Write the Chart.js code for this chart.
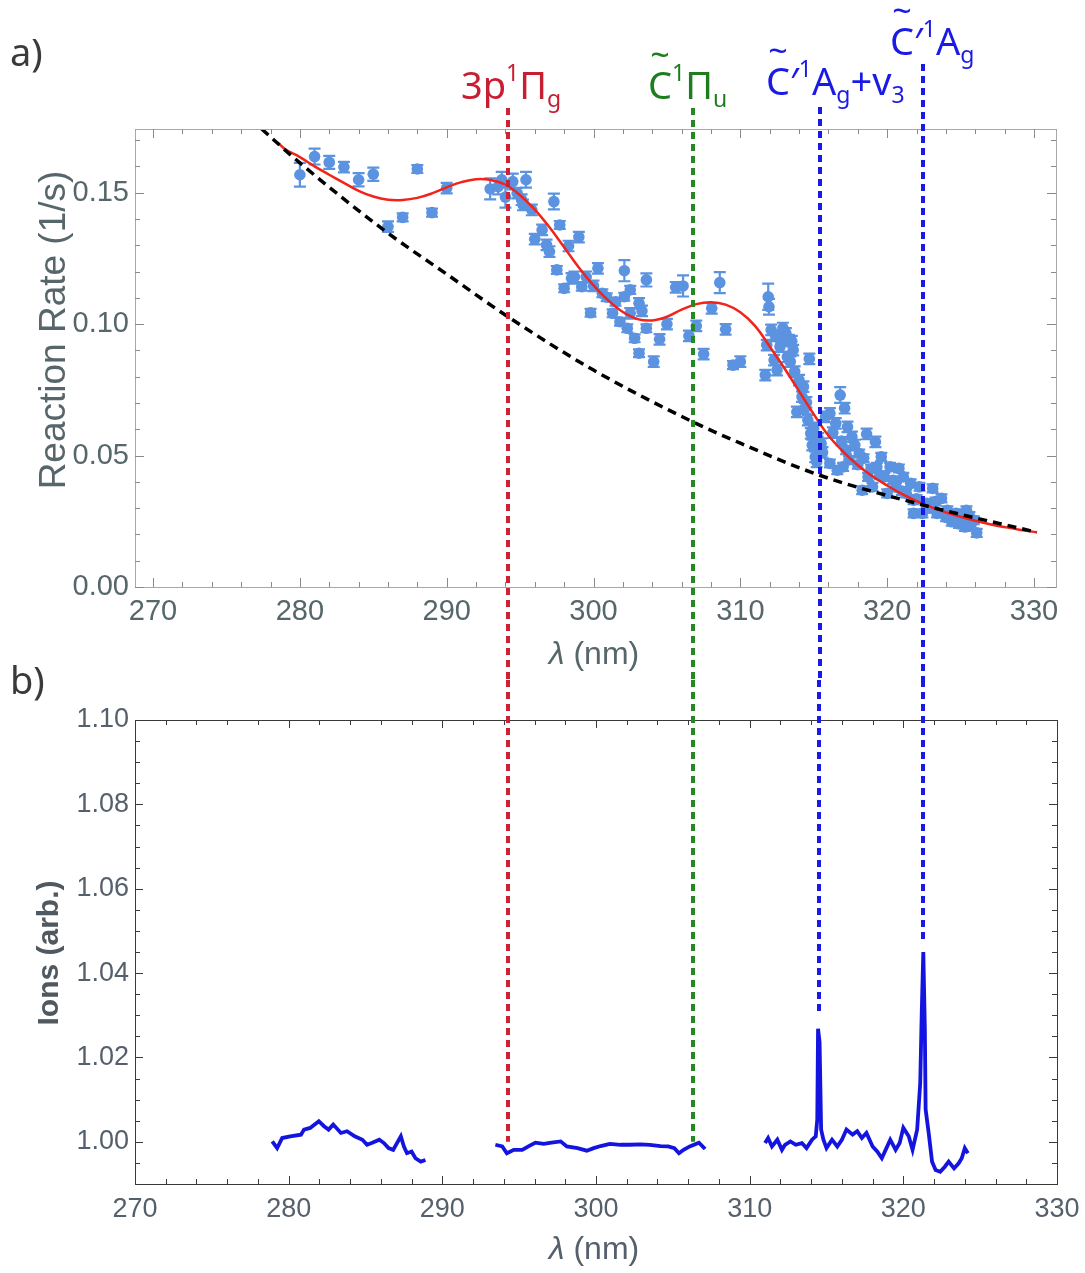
<!DOCTYPE html>
<html>
<head>
<meta charset="utf-8">
<script src="https://cdn.jsdelivr.net/npm/chart.js@4.4.1/dist/chart.umd.min.js"></script>
<style>
  body { margin: 0; background: #fff; width: 1085px; height: 1273px; position: relative; overflow: hidden; }
  canvas { position: absolute; left: 0; }
  #rate { top: 0; }
  #ions { top: 640px; }
</style>
</head>
<body>
<canvas id="rate" width="1085" height="700"></canvas>
<canvas id="ions" width="1085" height="633"></canvas>
<script>
// ---- a) reaction rate vs wavelength ----
// measured points (nm, 1/s) with error bar half heights
const rateX = [280.0, 281.0, 282.0, 283.0, 284.0, 285.0, 286.0, 287.0, 288.0, 289.0, 290.0,
  292.96, 293.5, 293.75, 294.0, 294.5, 294.8, 295.1, 295.4, 295.8, 296.0, 295.2, 297.3, 296.5, 296.8, 297.0,
  297.7, 298.3, 299.0, 297.5, 298.0, 298.5, 298.7, 299.2, 299.5, 299.8, 300.0, 300.3, 300.6, 300.9,
  301.3, 301.5, 301.8, 302.1, 302.1, 302.3, 302.5, 302.5, 302.8, 303.1, 303.1, 303.3, 303.6, 303.6,
  304.1, 304.5, 305.0, 305.6, 306.1, 306.5, 307.0, 307.5, 308.05, 308.6, 309.0, 309.5, 310.0,
  311.7, 311.9, 311.95, 311.8, 312.1, 312.3, 312.5, 312.7, 312.8, 313.1, 313.3, 313.4, 313.6, 313.7,
  314.0, 313.85, 314.2, 314.4, 314.6, 314.8, 314.9, 315.1, 315.2, 314.7, 315.8, 316.1, 316.5, 316.8,
  317.1, 317.3, 317.6, 317.8, 316.1, 316.6, 317.0, 317.4, 318.1, 318.3, 318.6, 318.7, 319.0, 319.2,
  319.3, 319.6, 319.8, 320.0, 320.2, 320.4, 320.8, 321.1, 321.3, 321.6, 321.8, 321.8, 322.2, 322.4,
  322.7, 323.1, 323.4, 323.7, 324.1, 324.4, 324.7, 325.1, 325.4, 325.7, 325.9, 326.1,
  312.4, 312.9, 313.2, 313.5, 314.3, 314.5, 315.0, 315.3, 315.5, 315.6, 316.3, 316.9, 317.2, 318.0,
  318.4, 318.9, 319.5, 320.6, 321.0, 322.0, 322.9, 323.3, 324.0, 324.9, 325.3, 325.6];
const rateY = [0.1568, 0.1637, 0.1615, 0.1597, 0.1549, 0.1570, 0.1371, 0.1406, 0.1590, 0.1424, 0.1517,
  0.1514, 0.1523, 0.1549, 0.1483, 0.1542, 0.1498, 0.1473, 0.1549, 0.1434, 0.1323, 0.1453, 0.1466, 0.1358, 0.1301, 0.1276,
  0.1377, 0.1297, 0.1331, 0.1206, 0.1136, 0.1174, 0.1180, 0.1142, 0.1180, 0.1043, 0.1145, 0.1212, 0.1117, 0.1102,
  0.1041, 0.1085, 0.1009, 0.1203, 0.1104, 0.0984, 0.1130, 0.1041, 0.0946, 0.1079, 0.0889, 0.1050, 0.1168, 0.0984,
  0.0857, 0.0942, 0.1000, 0.1140, 0.1145, 0.0955, 0.0993, 0.0886, 0.1060, 0.1158, 0.0980, 0.0844, 0.0857,
  0.0806, 0.1104, 0.1066, 0.0920, 0.0978, 0.0863, 0.0825, 0.0914, 0.0946, 0.0965, 0.0939, 0.0857, 0.0901, 0.0819,
  0.0787, 0.0666, 0.0724, 0.0680, 0.0635, 0.0584, 0.0540, 0.0495, 0.0476, 0.0868, 0.0647, 0.0660, 0.0622, 0.0730,
  0.0680, 0.0609, 0.0571, 0.0540, 0.0470, 0.0444, 0.0457, 0.0483, 0.0508, 0.0368, 0.0582, 0.0419, 0.0381, 0.0552,
  0.0457, 0.0495, 0.0419, 0.0356, 0.0457, 0.0406, 0.0451, 0.0419, 0.0356, 0.0394, 0.0330, 0.0280, 0.0381, 0.0280,
  0.0318, 0.0375, 0.0280, 0.0337, 0.0292, 0.0248, 0.0280, 0.0260, 0.0292, 0.0235, 0.0254, 0.0206,
  0.0955, 0.0985, 0.0875, 0.0935, 0.0762, 0.0702, 0.0605, 0.0565, 0.0545, 0.0512, 0.0587, 0.0555, 0.0520, 0.0465,
  0.0490, 0.0450, 0.0425, 0.0380, 0.0365, 0.0335, 0.0300, 0.0325, 0.0265, 0.0240, 0.0228, 0.0270];
const rateErr = [0.0045, 0.003, 0.0025, 0.002, 0.0025, 0.0025, 0.002, 0.0015, 0.0015, 0.0015, 0.002,
  0.004, 0.003, 0.003, 0.004, 0.003, 0.002, 0.002, 0.003, 0.002, 0.002, 0.002, 0.003, 0.002, 0.002, 0.002,
  0.0015, 0.002, 0.002, 0.0015, 0.0015, 0.002, 0.002, 0.0015, 0.002, 0.0015, 0.002, 0.002, 0.0015, 0.0015,
  0.0015, 0.0015, 0.0015, 0.004, 0.0015, 0.0015, 0.0015, 0.002, 0.0015, 0.002, 0.0015, 0.002, 0.0025, 0.0015,
  0.002, 0.002, 0.002, 0.002, 0.004, 0.002, 0.002, 0.002, 0.002, 0.004, 0.002, 0.0015, 0.002,
  0.002, 0.005, 0.003, 0.002, 0.002, 0.002, 0.002, 0.002, 0.002, 0.002, 0.002, 0.002, 0.002, 0.002,
  0.002, 0.002, 0.002, 0.002, 0.002, 0.002, 0.002, 0.002, 0.002, 0.002, 0.002, 0.002, 0.002, 0.003,
  0.002, 0.002, 0.002, 0.002, 0.0015, 0.0015, 0.0015, 0.0015, 0.0015, 0.0015, 0.002, 0.0015, 0.0015, 0.002,
  0.0015, 0.0015, 0.0015, 0.0015, 0.0015, 0.0015, 0.0015, 0.0015, 0.0015, 0.0015, 0.0015, 0.0015, 0.0015, 0.0015,
  0.0015, 0.0015, 0.0015, 0.0015, 0.0015, 0.0015, 0.0015, 0.0015, 0.0015, 0.0015, 0.0015, 0.0015,
  0.002, 0.002, 0.002, 0.002, 0.002, 0.002, 0.002, 0.002, 0.002, 0.002, 0.002, 0.0015, 0.0015, 0.0015,
  0.0015, 0.0015, 0.0015, 0.0015, 0.0015, 0.0015, 0.0015, 0.0015, 0.0015, 0.0015, 0.0015, 0.0015];

const fitX = [278.5, 279, 280, 281, 282, 283, 284, 285, 286, 287, 288, 289, 290, 291, 292, 293, 294, 295,
  296, 297, 298, 299, 300, 301, 302, 303, 304, 305, 306, 307, 308, 309, 310, 311, 312, 313, 314, 315,
  316, 317, 318, 319, 320, 321, 322, 323, 324, 325, 326, 327, 328, 329, 330.2];
const fitY = [0.1690, 0.1665, 0.1635, 0.1600, 0.1568, 0.1537, 0.1507, 0.1485, 0.1473, 0.1472, 0.1480, 0.1497,
  0.1520, 0.1540, 0.1551, 0.1548, 0.1530, 0.1490, 0.1435, 0.1368, 0.1292, 0.1215, 0.1147, 0.1090, 0.1046,
  0.1019, 0.1014, 0.1028, 0.1055, 0.1076, 0.1083, 0.1074, 0.1045, 0.0993, 0.0915, 0.0832, 0.0745, 0.0657,
  0.0576, 0.0515, 0.0463, 0.0421, 0.0386, 0.0354, 0.0327, 0.0304, 0.0284, 0.0267, 0.0252, 0.0239, 0.0228,
  0.0218, 0.0208];

// black dashed background curve
const baseX = [277.4, 280.0, 286.0, 290.0, 294.2, 300.0, 306.8, 310.0, 315.4, 322.5, 330.2];
const baseY = [0.1742, 0.1613, 0.1346, 0.1190, 0.1027, 0.0825, 0.0627, 0.0547, 0.0425, 0.0311, 0.0208];

const rateXTicks = [270, 280, 290, 300, 310, 320, 330];
const rateYTicks = [0.00, 0.05, 0.10, 0.15];

// state assignments (nm on each panel's own axis)
const stateX = [294.2, 306.8, 315.4, 322.45];
const ionStateX = [294.27, 306.31, 314.51, 321.28];
const ionStateEnd = [1.000, 1.000, 1.030, 1.047];
const stateColors = ['#cc2233', '#238a23', '#1a1ae6', '#1a1ae6'];
const stateTop = [108, 108, 107, 64];

// ---- b) ion signal, three scans ----
const ionX1 = [278.93, 279.25, 279.58, 280.1, 280.8, 281.0, 281.4, 281.96, 282.3, 282.6, 282.9, 283.4, 283.8, 284.3,
  284.8, 285.1, 285.4, 285.9, 286.2, 286.5, 286.8, 287.3, 287.5, 287.7, 288.0, 288.25, 288.6, 288.9];
const ionY1 = [1.0001, 0.9985, 1.0009, 1.0013, 1.0017, 1.0029, 1.0033, 1.0049, 1.0037, 1.0029, 1.0041, 1.0021, 1.0025, 1.0013,
  1.0005, 0.9993, 0.9997, 1.0005, 0.9997, 0.9985, 0.9981, 1.0013, 0.9989, 0.9973, 0.9977, 0.9961, 0.9953, 0.9957];
const ionX2 = [293.45, 293.9, 294.2, 294.65, 295.2, 295.6, 296.06, 296.6, 297.1, 297.7, 298.1, 298.8, 299.4, 299.85,
  300.3, 300.9, 301.6, 302.2, 302.9, 303.5, 304.2, 304.7, 305.1, 305.4, 305.7, 306.1, 306.7, 307.1];
const ionY2 = [0.9993, 0.9989, 0.9973, 0.9981, 0.9981, 0.9989, 0.9998, 0.9995, 0.9998, 1.0001, 0.9989, 0.9985, 0.9979, 0.9985,
  0.9990, 0.9995, 0.9993, 0.9993, 0.9994, 0.9993, 0.9990, 0.9989, 0.9985, 0.9973, 0.9981, 0.9989, 0.9998, 0.9983];
const ionX3 = [311.0, 311.2, 311.45, 311.8, 312.1, 312.3, 312.65, 313.0, 313.4, 313.7, 314.06, 314.3, 314.4, 314.45,
  314.55, 314.65, 314.8, 315.0, 315.36, 315.7, 316.0, 316.3, 316.7, 317.0, 317.3, 317.6, 318.0, 318.3, 318.6, 318.9,
  319.15, 319.5, 319.76, 320.0, 320.35, 320.6, 320.9, 321.1, 321.2, 321.3, 321.4, 321.45, 321.65, 321.87, 322.1,
  322.4, 322.7, 322.95, 323.3, 323.6, 323.8, 324.0, 324.2];
const ionY3 = [0.9997, 1.0009, 0.9989, 1.0005, 0.9981, 0.9993, 1.0001, 0.9993, 0.9997, 0.9985, 1.0005, 1.0013, 1.0053, 1.0268,
  1.0236, 1.0029, 1.0005, 0.9985, 1.0005, 0.9989, 1.0005, 1.0029, 1.0017, 1.0025, 1.0009, 1.0021, 0.9989, 0.9977, 0.9961, 0.9985,
  1.0005, 0.9981, 0.9997, 1.0033, 1.0013, 0.9981, 1.0029, 1.0140, 1.0310, 1.0450, 1.0268, 1.0077, 1.0021, 0.9953, 0.9933,
  0.9929, 0.9941, 0.9953, 0.9937, 0.9949, 0.9961, 0.9985, 0.9973];

const ionXTicks = [270, 280, 290, 300, 310, 320, 330];
const ionYTicks = [1.00, 1.02, 1.04, 1.06, 1.08, 1.10];

const pts = (xs, ys) => xs.map((x, i) => ({ x: x, y: ys[i] }));

// error bars with caps
const errorBars = {
  id: 'errorBars',
  beforeDatasetsDraw(chart) {
    const ctx = chart.ctx, sy = chart.scales.y;
    chart.data.datasets.forEach((ds, di) => {
      if (!ds.errors) return;
      const meta = chart.getDatasetMeta(di);
      ctx.save();
      ctx.strokeStyle = ds.backgroundColor;
      ctx.lineWidth = 2.2;
      ctx.beginPath();
      meta.data.forEach((p, i) => {
        const y = ds.data[i].y, e = ds.errors[i];
        const y1 = sy.getPixelForValue(y + e), y2 = sy.getPixelForValue(y - e);
        ctx.moveTo(p.x, y1); ctx.lineTo(p.x, y2);
        ctx.moveTo(p.x - 6, y1); ctx.lineTo(p.x + 6, y1);
        ctx.moveTo(p.x - 6, y2); ctx.lineTo(p.x + 6, y2);
      });
      ctx.stroke();
      ctx.restore();
    });
  }
};

// Mathematica-style frame with inward ticks on all four sides
const frameTicks = {
  id: 'frameTicks',
  afterDraw(chart, args, o) {
    const { ctx, chartArea: a } = chart;
    const sx = chart.scales.x, sy = chart.scales.y;
    ctx.save();
    ctx.strokeStyle = o.color;
    ctx.lineWidth = 1;
    ctx.strokeRect(Math.round(a.left) + 0.5, Math.round(a.top) + 0.5, Math.round(a.width), Math.round(a.height));
    ctx.strokeStyle = o.tickColor;
    ctx.beginPath();
    const isMajor = (v, step) => Math.abs(v / step - Math.round(v / step)) < 1e-6;
    for (let v = o.x[0]; v <= o.x[1] + 1e-9; v += o.x[2]) {
      const p = Math.round(sx.getPixelForValue(v)) + 0.5;
      if (p < a.left || p > a.right) continue;
      const len = isMajor(v, o.x[3]) ? o.major : o.minor;
      ctx.moveTo(p, a.bottom); ctx.lineTo(p, a.bottom - len);
      ctx.moveTo(p, a.top); ctx.lineTo(p, a.top + len);
    }
    for (let v = o.y[0]; v <= o.y[1] + 1e-9; v += o.y[2]) {
      const p = Math.round(sy.getPixelForValue(v)) + 0.5;
      if (p < a.top - 0.5 || p > a.bottom + 0.5) continue;
      const len = isMajor(v, o.y[3]) ? o.major : o.minor;
      ctx.moveTo(a.left, p); ctx.lineTo(a.left + len, p);
      ctx.moveTo(a.right, p); ctx.lineTo(a.right - len, p);
    }
    ctx.stroke();
    ctx.restore();
  }
};

// dotted vertical lines marking the electronic states
const stateLines = {
  id: 'stateLines',
  afterDraw(chart, args, o) {
    const ctx = chart.ctx, sx = chart.scales.x, sy = chart.scales.y;
    ctx.save();
    ctx.lineWidth = 4;
    ctx.setLineDash([7, 5]);
    o.xs.forEach((v, i) => {
      const x = Math.round(sx.getPixelForValue(v));
      const y1 = o.fromPx ? o.fromPx[i] : o.from;
      const y2 = o.toVal ? sy.getPixelForValue(o.toVal[i]) : o.to;
      ctx.strokeStyle = o.colors[i];
      ctx.beginPath(); ctx.moveTo(x, y1); ctx.lineTo(x, y2); ctx.stroke();
    });
    ctx.restore();
  }
};

// free text: axis titles, panel letters, state labels
function drawRich(ctx, x, y, parts, color) {
  const big = '38px "Noto Sans"', small = '23px "Noto Sans"';
  ctx.fillStyle = color;
  ctx.textAlign = 'left';
  ctx.textBaseline = 'alphabetic';
  for (const [t, k] of parts) {
    if (k === 'tilde') {
      ctx.font = big;
      const w = ctx.measureText(t).width;
      ctx.fillText(t, x, y);
      ctx.font = '34px "Noto Sans"';
      const tw = ctx.measureText('~').width;
      ctx.fillText('~', x + (w - tw) / 2, y - 32);
      x += w;
      continue;
    }
    ctx.font = k === 'n' ? big : small;
    const dy = k === 'sup' ? -18 : (k === 'sub' ? 8 : 0);
    ctx.fillText(t, x, y + dy);
    x += ctx.measureText(t).width;
  }
}

const texts = {
  id: 'texts',
  afterDraw(chart, args, o) {
    const ctx = chart.ctx;
    ctx.save();
    o.items.forEach(it => {
      ctx.save();
      ctx.translate(it.x, it.y);
      if (it.rotate) ctx.rotate(it.rotate);
      ctx.fillStyle = it.color;
      ctx.textBaseline = 'middle';
      if (it.parts) {
        // mixed italic / upright run, centred
        let w = 0;
        it.parts.forEach(p => { ctx.font = p[1]; w += ctx.measureText(p[0]).width; });
        let x = -w / 2;
        ctx.textAlign = 'left';
        it.parts.forEach(p => { ctx.font = p[1]; ctx.fillText(p[0], x, 0); x += ctx.measureText(p[0]).width; });
      } else {
        ctx.font = it.font;
        ctx.textAlign = it.align || 'center';
        ctx.fillText(it.text, 0, 0);
      }
      ctx.restore();
    });
    (o.rich || []).forEach(r => drawRich(ctx, r.x, r.y, r.parts, r.color));
    ctx.restore();
  }
};

const rateFont = { family: '"Liberation Sans", Arial, sans-serif', size: 29 };
const rateGray = '#56666a';
const ionFont = { family: '"Liberation Sans", Arial, sans-serif', size: 27 };
const ionGray = '#55606c';

// keep the plot area exactly where the frame is
const fixX = h => s => { s.height = h; s.paddingLeft = 0; s.paddingRight = 0; };
const fixY = s => { s.width = 135; s.paddingTop = 0; s.paddingBottom = 0; };

new Chart(document.getElementById('rate'), {
  type: 'scatter',
  data: {
    datasets: [
      { label: 'background', type: 'line', data: pts(baseX, baseY), borderColor: '#000', borderWidth: 3.5,
        borderDash: [9, 6], pointRadius: 0, cubicInterpolationMode: 'monotone', order: 1 },
      { label: 'fit', type: 'line', data: pts(fitX, fitY), borderColor: '#f2231b', borderWidth: 2.5,
        pointRadius: 0, tension: 0.4, order: 2 },
      { label: 'rate', data: pts(rateX, rateY), errors: rateErr, backgroundColor: '#5b93e0',
        borderWidth: 0, pointRadius: 5.8, order: 3 }
    ]
  },
  options: {
    responsive: false,
    animation: false,
    events: [],
    layout: { padding: { top: 129, right: 29, left: 0, bottom: 0 } },
    plugins: {
      legend: { display: false },
      tooltip: { enabled: false },
      frameTicks: { color: '#a8a8a8', tickColor: '#8a8a8a', major: 9, minor: 5,
        x: [268, 332, 2, 10], y: [0, 0.17, 0.01, 0.05] },
      stateLines: { xs: stateX, colors: stateColors, fromPx: stateTop, to: 680 },
      texts: {
        items: [
          { text: 'a)', x: 10, y: 55, font: '38px "Noto Sans"', color: '#3a3a3a', align: 'left' },
          { text: 'Reaction Rate (1/s)', x: 55, y: 330, rotate: -Math.PI / 2, font: '37px "Liberation Sans"', color: rateGray },
          { x: 594, y: 655, color: rateGray, parts: [['λ', 'italic 32px "Liberation Sans"'], [' (nm)', '32px "Liberation Sans"']] }
        ],
        rich: [
          { x: 461, y: 99, color: '#c81e32', parts: [['3p', 'n'], ['1', 'sup'], ['Π', 'n'], ['g', 'sub']] },
          { x: 648, y: 99, color: '#1f7d1f', parts: [['C', 'tilde'], ['1', 'sup'], ['Π', 'n'], ['u', 'sub']] },
          { x: 766, y: 95, color: '#1a1ae6', parts: [['C', 'tilde'], ['′', 'n'], ['1', 'sup'], ['A', 'n'], ['g', 'sub'], ['+v', 'n'], ['3', 'sub']] },
          { x: 890, y: 55, color: '#1a1ae6', parts: [['C', 'tilde'], ['′', 'n'], ['1', 'sup'], ['A', 'n'], ['g', 'sub']] }
        ]
      }
    },
    scales: {
      x: {
        type: 'linear', min: 268.77, max: 331.5,
        afterBuildTicks: s => { s.ticks = rateXTicks.map(v => ({ value: v })); },
        afterFit: fixX(113),
        grid: { display: false, drawTicks: false }, border: { display: false },
        ticks: { font: rateFont, color: rateGray, padding: 8, maxRotation: 0, autoSkip: false, callback: v => String(v) }
      },
      y: {
        type: 'linear', min: 0, max: 0.1742,
        afterBuildTicks: s => { s.ticks = rateYTicks.map(v => ({ value: v })); },
        afterFit: fixY,
        grid: { display: false, drawTicks: false }, border: { display: false },
        ticks: { font: rateFont, color: rateGray, padding: 6, autoSkip: false, callback: v => v.toFixed(2) }
      }
    }
  },
  plugins: [errorBars, frameTicks, stateLines, texts]
});

const ionLine = (xs, ys) => ({ type: 'line', data: pts(xs, ys), borderColor: '#1414e0', borderWidth: 3.8,
  pointRadius: 0, tension: 0 });

new Chart(document.getElementById('ions'), {
  type: 'scatter',
  data: { datasets: [ionLine(ionX1, ionY1), ionLine(ionX2, ionY2), ionLine(ionX3, ionY3)] },
  options: {
    responsive: false,
    animation: false,
    events: [],
    layout: { padding: { top: 80, right: 28, left: 0, bottom: 0 } },
    plugins: {
      legend: { display: false },
      tooltip: { enabled: false },
      frameTicks: { color: '#3a3a3a', tickColor: '#3a3a3a', major: 8, minor: 5,
        x: [270, 330, 2, 10], y: [0.99, 1.10, 0.005, 0.02] },
      stateLines: { xs: ionStateX, colors: stateColors, from: 40, toVal: ionStateEnd },
      texts: {
        items: [
          { text: 'b)', x: 10, y: 43, font: '38px "Noto Sans"', color: '#3a3a3a', align: 'left' },
          { text: 'Ions (arb.)', x: 50, y: 313, rotate: -Math.PI / 2, font: 'bold 30px "Liberation Sans"', color: '#505860' },
          { x: 594, y: 610, color: ionGray, parts: [['λ', 'italic 32px "Liberation Sans"'], [' (nm)', '32px "Liberation Sans"']] }
        ]
      }
    },
    scales: {
      x: {
        type: 'linear', min: 270, max: 330,
        afterBuildTicks: s => { s.ticks = ionXTicks.map(v => ({ value: v })); },
        afterFit: fixX(89),
        grid: { display: false, drawTicks: false }, border: { display: false },
        ticks: { font: ionFont, color: ionGray, padding: 9, maxRotation: 0, autoSkip: false, callback: v => String(v) }
      },
      y: {
        type: 'linear', min: 0.99, max: 1.10,
        afterBuildTicks: s => { s.ticks = ionYTicks.map(v => ({ value: v })); },
        afterFit: fixY,
        grid: { display: false, drawTicks: false }, border: { display: false },
        ticks: { font: ionFont, color: ionGray, padding: 6, autoSkip: false, callback: v => v.toFixed(2) }
      }
    }
  },
  plugins: [frameTicks, stateLines, texts]
});
</script>
</body>
</html>
